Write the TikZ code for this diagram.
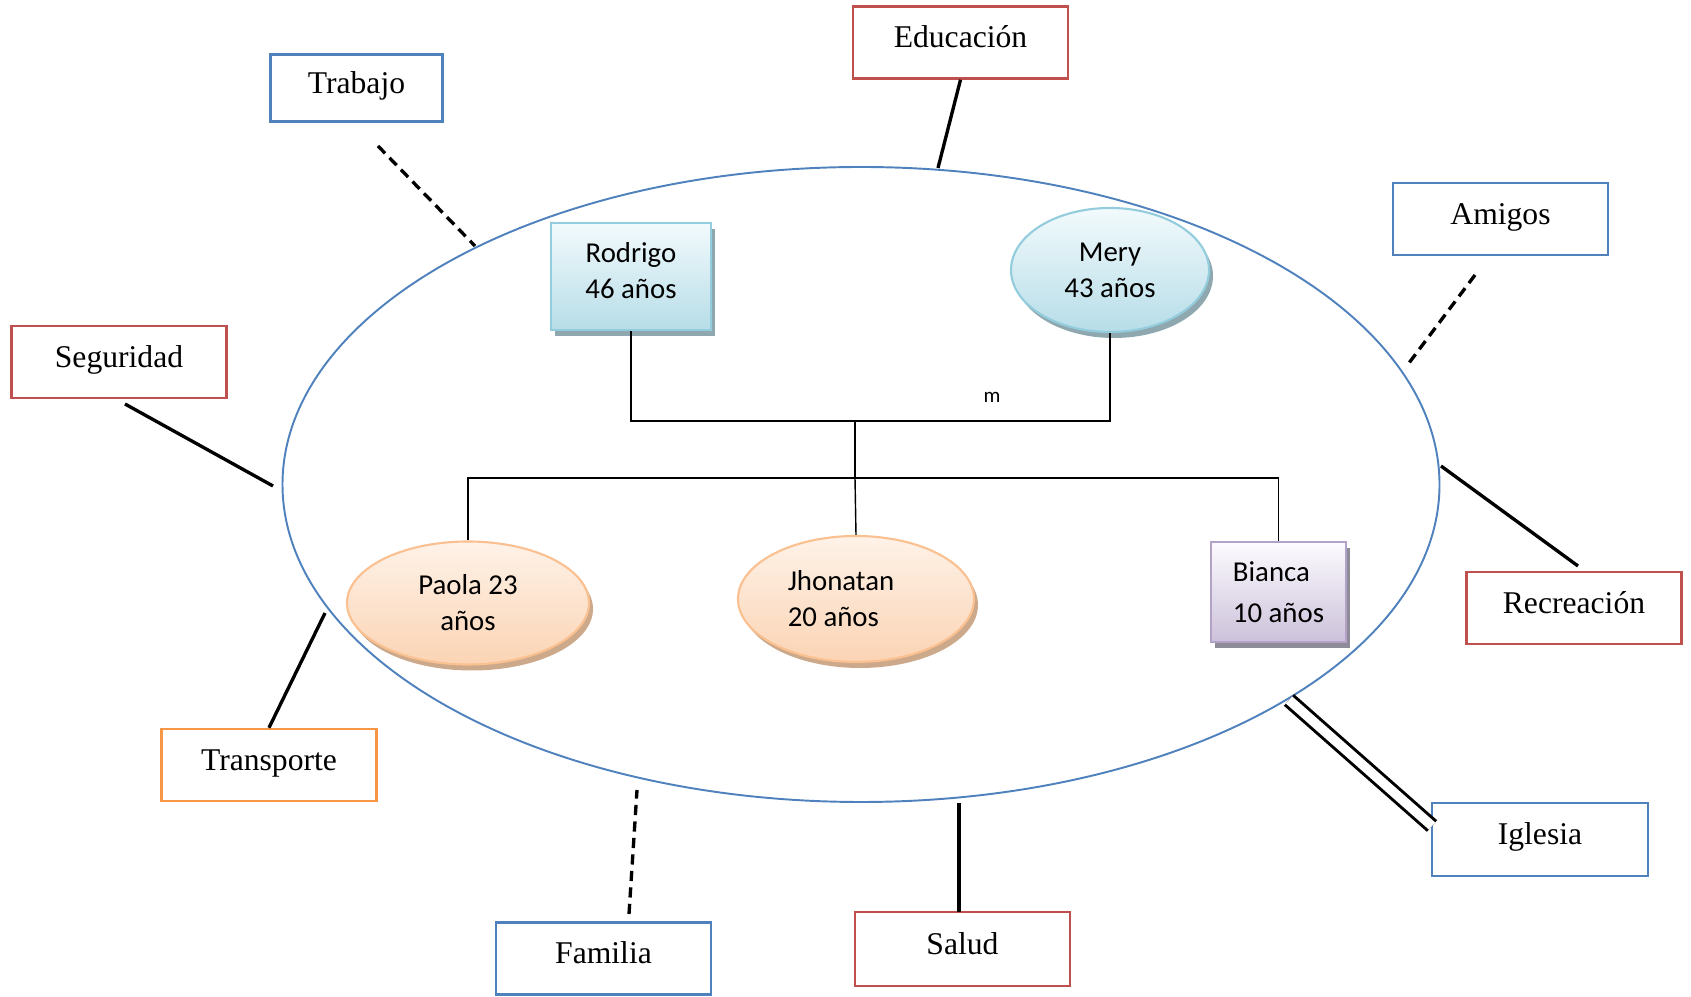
\documentclass[tikz,border=0pt]{standalone}
\usepackage{fontspec}
\setmainfont{Liberation Serif}
\newfontfamily\calibri{Carlito}
\usetikzlibrary{shapes.geometric,shadows}
\tikzset{>=latex}
\definecolor{azul}{HTML}{4F81BD}
\definecolor{rojo}{HTML}{C0504D}
\definecolor{naranja}{HTML}{F79646}
\definecolor{cianborde}{HTML}{93CDDD}
\definecolor{cianclaro}{HTML}{F2FAFC}
\definecolor{cianoscuro}{HTML}{B7DDE8}
\definecolor{ciansombra}{HTML}{8FA8B0}
\definecolor{durazborde}{HTML}{FAC08F}
\definecolor{durazclaro}{HTML}{FEF2E8}
\definecolor{durazoscuro}{HTML}{FBD4B4}
\definecolor{durazsombra}{HTML}{CDA98C}
\definecolor{lilaborde}{HTML}{B3A2C7}
\definecolor{lilaclaro}{HTML}{FCFBFE}
\definecolor{lilaoscuro}{HTML}{CCC1DA}
\definecolor{lilasombra}{HTML}{8E8C98}
\tikzset{
  caja/.style={draw=#1, line width=0.7pt, minimum width=2.15cm, minimum height=0.72cm,
    inner sep=0pt, text height=7pt, text depth=4.1pt, font=\fontsize{9}{11}\selectfont},
  enlace/.style={line width=0.95pt},
  punteado/.style={line width=0.95pt, dash pattern=on 2.9pt off 1.8pt},
  rama/.style={line width=0.4pt},
  persona/.style n args={4}{draw=#1, line width=0.6pt, top color=#2, bottom color=#3,
    drop shadow={shadow xshift=0.04cm, shadow yshift=-0.06cm, fill=#4, opacity=1},
    inner sep=0pt, align=center, font=\calibri\fontsize{8.2}{10.3}\selectfont},
}

\begin{document}
\begin{tikzpicture}
  \useasboundingbox (0,0) rectangle (16.91,-9.97);

  % Entorno
  \node[draw=azul, line width=0.55pt, ellipse, minimum width=11.57cm, minimum height=6.35cm,
    inner sep=0pt] (hogar) at (8.61,-4.845) {};

  % Familia nuclear
  \node[persona={cianborde}{cianclaro}{cianoscuro}{ciansombra}, minimum width=1.60cm,
    minimum height=1.07cm] (rodrigo) at (6.31,-2.765) {\raisebox{0.12cm}{Rodrigo}\\\raisebox{0.12cm}{46 años}};
  \node[persona={cianborde}{cianclaro}{cianoscuro}{ciansombra}, ellipse, minimum width=1.98cm,
    minimum height=1.24cm] (mery) at (11.10,-2.70) {Mery\\43 años};
  \node[persona={durazborde}{durazclaro}{durazoscuro}{durazsombra}, ellipse, minimum width=2.42cm,
    minimum height=1.23cm] (paola) at (4.68,-6.03) {Paola 23\\años};
  \node[persona={durazborde}{durazclaro}{durazoscuro}{durazsombra}, ellipse, minimum width=2.36cm,
    minimum height=1.26cm, align=left] (jhonatan) at (8.56,-5.99) {Jhonatan\hspace*{0.3cm}\\20 años};
  \node[persona={lilaborde}{lilaclaro}{lilaoscuro}{lilasombra}, minimum width=1.35cm,
    minimum height=1.00cm, align=left, font=\calibri\fontsize{8.2}{11.8}\selectfont]
    (bianca) at (12.785,-5.92) {Bianca\\10 años};
  \node[font=\calibri\fontsize{6}{7}\selectfont] (etiqueta) at (9.92,-3.97) {m};

  \coordinate (pareja) at (8.55,-4.21);
  \coordinate (hijos) at (8.55,-4.78);
  \draw[rama] (rodrigo.south) |- (pareja) -| (mery.south);
  \draw[rama] (pareja) -- (hijos);
  \draw[rama] (paola.north) |- (hijos) -| (bianca.north);
  \draw[rama] (hijos) -- (jhonatan.north);

  % Sistemas externos
  \node[caja=rojo] (educacion) at (9.605,-0.425) {Educación};
  \node[caja=azul, minimum width=1.72cm, minimum height=0.67cm] (trabajo) at (3.565,-0.88) {Trabajo};
  \node[caja=azul] (amigos) at (15.005,-2.19) {Amigos};
  \node[caja=rojo] (seguridad) at (1.19,-3.62) {Seguridad};
  \node[caja=rojo] (recreacion) at (15.74,-6.08) {Recreación};
  \node[caja=naranja] (transporte) at (2.69,-7.65) {Transporte};
  \node[caja=azul] (familia) at (6.035,-9.585) {Familia};
  \node[caja=rojo, minimum height=0.74cm] (salud) at (9.625,-9.49) {Salud};
  \node[caja=azul, minimum width=2.16cm, minimum height=0.73cm] (iglesia) at (15.40,-8.395) {Iglesia};

  % Extremos
  \coordinate (e1) at (9.38,-1.68);
  \coordinate (t0) at (3.78,-1.46);
  \coordinate (t1) at (4.75,-2.46);
  \coordinate (a0) at (14.75,-2.75);
  \coordinate (a1) at (14.09,-3.63);
  \coordinate (s0) at (1.25,-4.04);
  \coordinate (s1) at (2.73,-4.86);
  \coordinate (r0) at (14.41,-4.66);
  \coordinate (r1) at (15.78,-5.66);
  \coordinate (tr1) at (3.25,-6.13);
  \coordinate (f0) at (6.29,-9.14);
  \coordinate (f1) at (6.37,-7.90);
  \coordinate (sa0) at (9.59,-9.12);
  \coordinate (sa1) at (9.59,-8.03);
  \coordinate (i0) at (14.32,-8.26);
  \coordinate (i1) at (12.89,-7.00);

  % Lazos
  \draw[enlace] (educacion.south) -- (e1);
  \draw[punteado] (t0) -- (t1);
  \draw[punteado] (a0) -- (a1);
  \draw[enlace] (s0) -- (s1);
  \draw[enlace] (r0) -- (r1);
  \draw[enlace] (transporte.north) -- (tr1);
  \draw[punteado] (f0) -- (f1);
  \draw[enlace] (sa0) -- (sa1);
  \draw[line width=0.85pt, double, double distance=2.7pt] (i0) -- (i1);
\end{tikzpicture}
\end{document}
